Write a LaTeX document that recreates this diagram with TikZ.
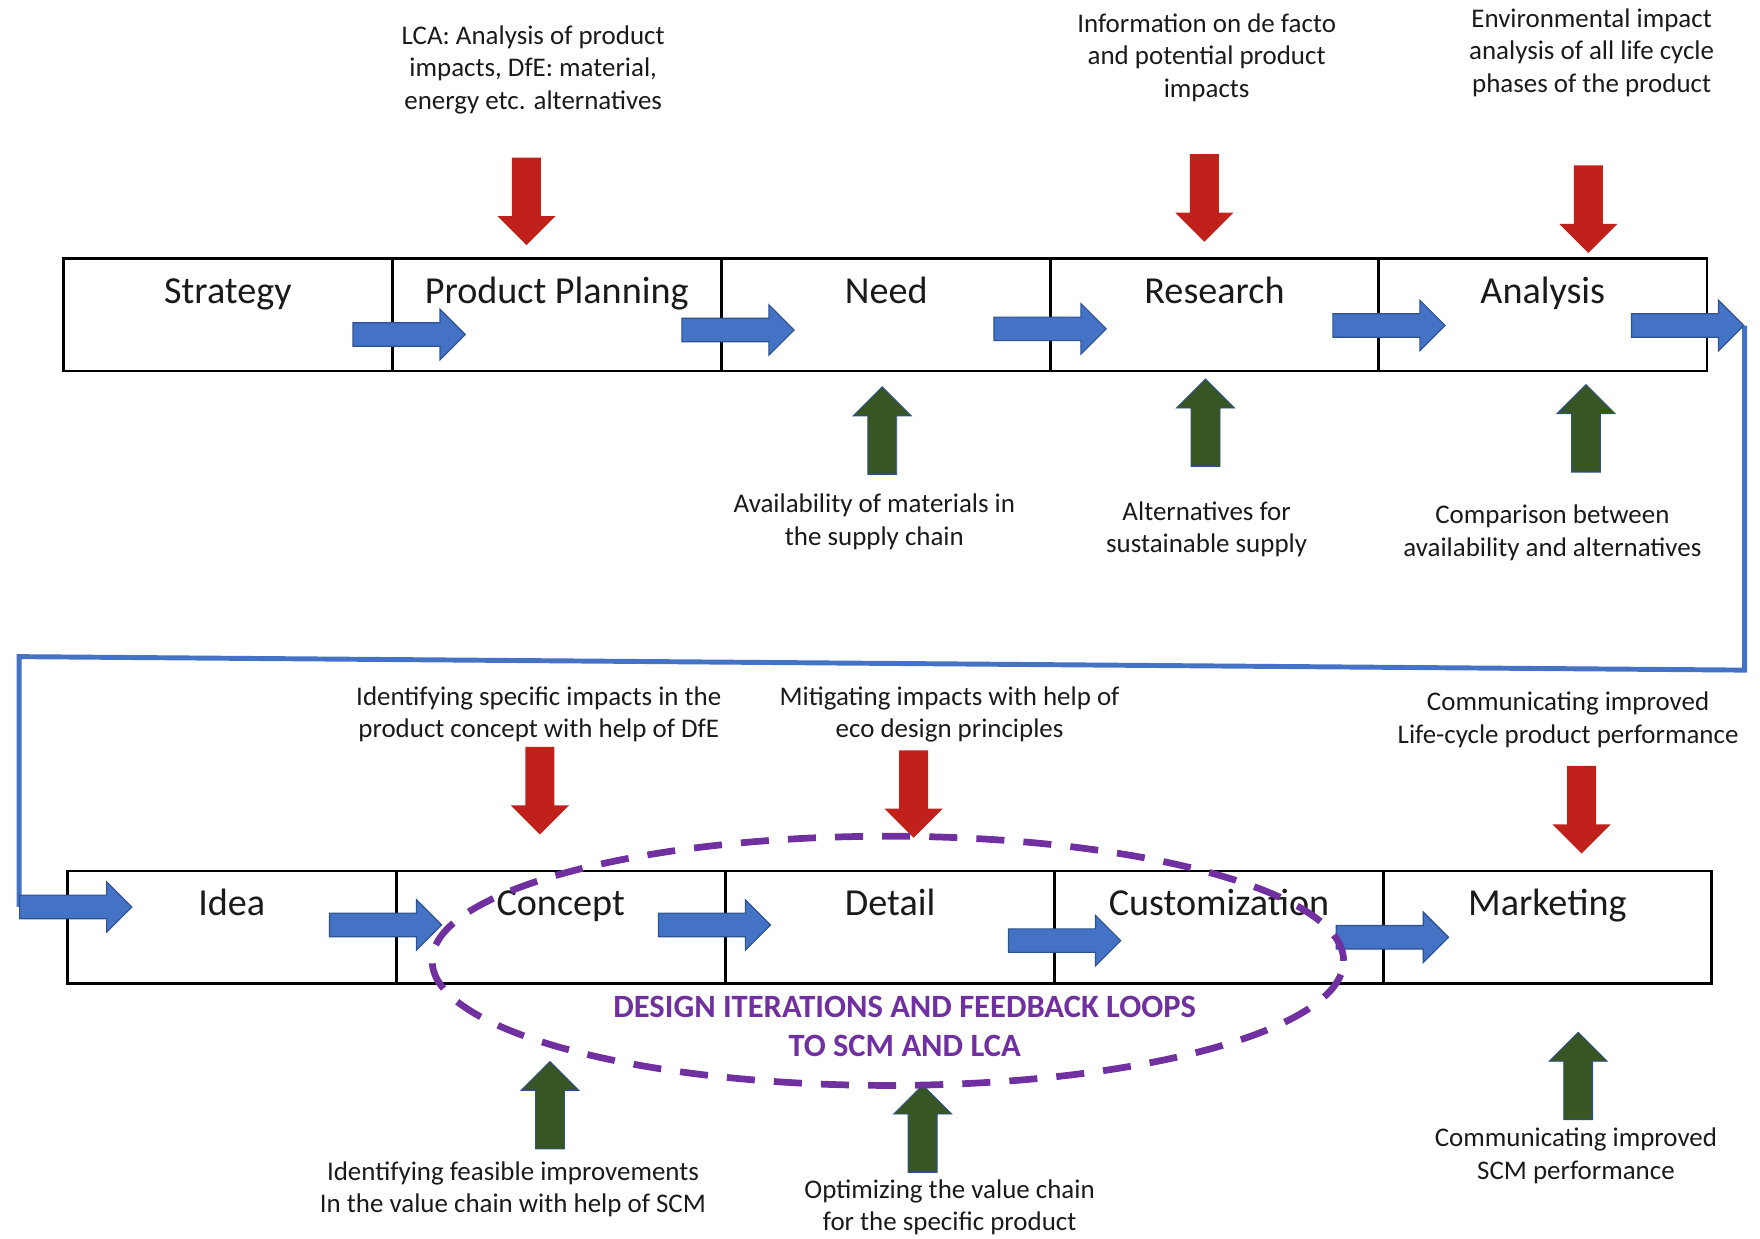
\documentclass[tikz,border=0pt]{standalone}
\usepackage{fontspec}
\setmainfont{Carlito}
\usetikzlibrary{shapes.arrows,shapes.geometric}

\definecolor{flowblue}{HTML}{4472C4}
\definecolor{flowedge}{HTML}{2F528F}
\definecolor{lcared}{HTML}{C0211B}
\definecolor{scmgreen}{HTML}{375623}
\definecolor{loopviolet}{HTML}{7030A0}
\definecolor{ink}{HTML}{1A1A1A}

\pgfdeclarelayer{back}
\pgfsetlayers{back,main}

\begin{document}
\begin{tikzpicture}[x=0.5pt,y=-0.5pt,
  phase/.style={draw=black, line width=1.1pt, minimum width=146.4pt,
    minimum height=50pt, inner sep=0pt, text=ink,
    font=\fontsize{17}{20}\selectfont, text height=12pt, text depth=22pt},
  flow/.style={single arrow, fill=flowblue, draw=flowedge, line width=0.5pt,
    inner sep=5pt, minimum height=50pt, minimum width=22pt,
    single arrow head extend=6pt, anchor=tail},
  impact/.style={single arrow, fill=lcared, draw=none, inner sep=6.25pt,
    minimum height=39pt, minimum width=25.5pt, single arrow head extend=6.5pt,
    shape border rotate=270, anchor=tail},
  supply/.style={single arrow, fill=scmgreen, draw=flowedge, line width=0.4pt,
    inner sep=6.25pt, minimum height=39pt, minimum width=25.5pt,
    single arrow head extend=6.5pt, shape border rotate=90, anchor=tail},
  note/.style={align=center, text=ink, inner sep=0pt,
    font=\fontsize{12}{14.5}\selectfont},
  returnline/.style={draw=flowblue, line width=2.2pt},
  loopring/.style={ellipse, draw=loopviolet, line width=3pt,
    dash pattern=on 12.5pt off 8.5pt, minimum width=406pt,
    minimum height=111pt, inner sep=0pt},
  looptext/.style={align=center, text=loopviolet, inner sep=0pt,
    font=\fontsize{14.5}{17.5}\selectfont\bfseries}
]
\useasboundingbox (0,0) rectangle (1568,1103);

% ---------- upper process chain ----------
\node[phase] (strategy) at (203,280.5)   {Strategy};
\node[phase] (planning) at (496,280.5)   {Product Planning};
\node[phase] (need)     at (789.5,280.5) {Need};
\node[phase] (research) at (1082,280.5)  {Research};
\node[phase] (analysis) at (1374.5,280.5){Analysis};

% ---------- lower process chain ----------
\node[phase] (idea)      at (206.5,826)  {Idea};
\node[phase] (concept)   at (499.5,826)  {Concept};
\node[phase] (detail)    at (793,826)    {Detail};
\node[phase] (custom)    at (1086,826)   {Customization};
\node[phase] (marketing) at (1378.5,826) {Marketing};

% ---------- flow arrows ----------
\node[flow] (f1) at (314,298) {};
\node[flow] (f2) at (607,294) {};
\node[flow] (f3) at (885,293) {};
\node[flow] (f4) at (1187,290) {};
\node[flow] (f5) at (1453,290) {};
\node[flow] (fin) at (17,808) {};
\node[flow] (g1) at (293,824) {};
\node[flow] (g2) at (586,824) {};
\node[flow] (g3) at (898,838) {};
\node[flow] (g4) at (1190,835) {};

% ---------- return line from the upper to the lower chain ----------
\coordinate (bendR) at (1557,597);
\coordinate (bendL) at (17,585);
\begin{pgfonlayer}{back}
  \draw[returnline] (f5.tip) -- (f5.tip |- bendR) -- (bendL) -- (fin.tail);
\end{pgfonlayer}

% ---------- LCA / DfE inputs (red) ----------
\node[impact] (r1) at (469,140)  {};
\node[impact] (r2) at (1073,137) {};
\node[impact] (r3) at (1415,147) {};
\node[impact] (r4) at (481,665)  {};
\node[impact] (r5) at (814,668)  {};
\node[impact] (r6) at (1409,682) {};

% ---------- SCM inputs (green) ----------
\node[supply] (s1) at (786,423)  {};
\node[supply] (s2) at (1074,416) {};
\node[supply] (s3) at (1413,421) {};
\node[supply] (s4) at (490,1024) {};
\node[supply] (s5) at (822,1045) {};
\node[supply] (s6) at (1406,998) {};

% ---------- annotations ----------
\node[note] (n1) at (475,62)    {LCA: Analysis of product\\impacts, DfE: material,\\energy etc. alternatives};
\node[note] (n2) at (1075,51.5) {Information on de facto\\and potential product\\impacts};
\node[note] (n3) at (1418,47)   {Environmental impact\\analysis of all life cycle\\phases of the product};
\node[note] (n4) at (779,465)   {Availability of materials in\\the supply chain};
\node[note] (n5) at (1075,471.5){Alternatives for\\sustainable supply};
\node[note] (n6) at (1383,474.5){Comparison between\\availability and alternatives};
\node[note] (n7) at (480,636.5) {Identifying specific impacts in the\\product concept with help of DfE};
\node[note] (n8) at (846,636.5) {Mitigating impacts with help of\\eco design principles};
\node[note] (n9) at (1397,641.5){Communicating improved\\Life-cycle product performance};
\node[note] (n10) at (457,1059.5){Identifying feasible improvements\\In the value chain with help of SCM};
\node[note] (n11) at (846,1075.5){Optimizing the value chain\\for the specific product};
\node[note] (n12) at (1404,1029.5){Communicating improved\\SCM performance};

% ---------- design iteration loop ----------
\node[loopring] (loop) at (791,856) {};
\node[looptext] (looplabel) at (806,914.5) {DESIGN ITERATIONS AND FEEDBACK LOOPS\\TO SCM AND LCA};
\end{tikzpicture}
\end{document}
